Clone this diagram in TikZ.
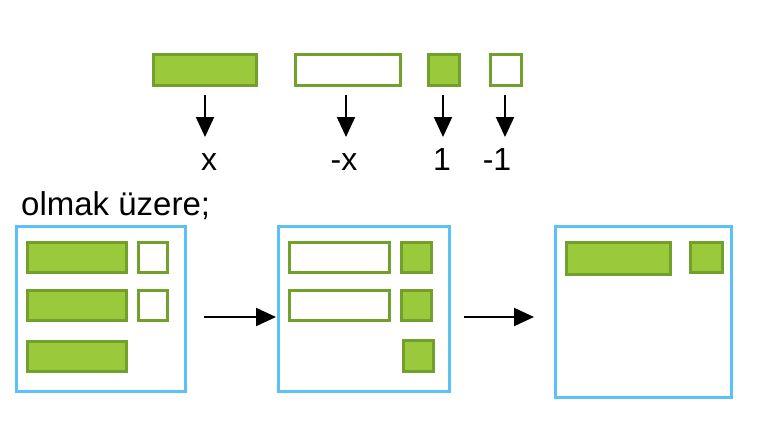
\documentclass[tikz,border=0pt]{standalone}
\usepackage{fontspec}
\setmainfont{Liberation Sans}
\usetikzlibrary{arrows.meta}
\definecolor{gfill}{HTML}{9ACA3C}
\definecolor{gline}{HTML}{72A02C}
\definecolor{bline}{HTML}{5BC2F7}
\begin{document}
\begin{tikzpicture}[x=1pt,y=-1pt,
  tile/.style={draw=gline,line width=3pt,inner sep=0pt,minimum height=30pt},
  gtile/.style={tile,fill=gfill},
  wtile/.style={tile,fill=white},
  frame/.style={draw=bline,line width=3pt,fill=white,inner sep=0pt},
  lab/.style={font=\fontsize{32}{36}\selectfont,inner sep=0pt,text height=23pt,text depth=0pt,anchor=south},
  arr/.style={line width=2pt,-{Triangle[length=20pt,width=18pt]}}]
\useasboundingbox (0,0) rectangle (764,423);
\fill[white] (0,0) rectangle (764,423);
% legend
\node[gtile,minimum width=103pt,minimum height=31pt] (lx) at (205,70) {};
\node[wtile,minimum width=105pt,minimum height=31pt] (lnx) at (348,70) {};
\node[gtile,minimum width=31pt,minimum height=31pt] (lo) at (444,70) {};
\node[wtile,minimum width=31pt,minimum height=31pt] (lmo) at (506,70) {};
\node[lab] (tx) at (209,171) {x};
\node[lab] (tnx) at (344,171) {-x};
\node[lab] (to) at (442,171) {1};
\node[lab] (tmo) at (497,171) {-1};
\coordinate (ex) at (205,137);
\coordinate (enx) at (346,137);
\coordinate (eo) at (443,137);
\coordinate (emo) at (505,137);
\draw[arr] ([yshift=-8pt]lx.south) -- (ex);
\draw[arr] ([yshift=-8pt]lnx.south -| enx) -- (enx);
\draw[arr] ([yshift=-8pt]lo.south -| eo) -- (eo);
\draw[arr] ([yshift=-8pt]lmo.south -| emo) -- (emo);
% caption
\node[font=\fontsize{33}{38}\selectfont,inner sep=0pt,anchor=base west] (cap) at (21,215) {olmak üzere;};
% boxes
\node[frame,minimum width=169pt,minimum height=165pt] (b1) at (101,309) {};
\node[frame,minimum width=171pt,minimum height=165pt] (b2) at (364,309) {};
\node[frame,minimum width=176pt,minimum height=171pt] (b3) at (643.5,312) {};
% box 1
\node[gtile,minimum width=99pt] (b1x1) at (77,257.5) {};
\node[gtile,minimum width=99pt] (b1x2) at (77,305.5) {};
\node[gtile,minimum width=99pt] (b1x3) at (77,356) {};
\node[wtile,minimum width=29pt] (b1m1) at (153,257.5) {};
\node[wtile,minimum width=29pt] (b1m2) at (153,305.5) {};
% box 2
\node[wtile,minimum width=100pt] (b2n1) at (339.5,257.5) {};
\node[wtile,minimum width=100pt] (b2n2) at (339.5,305.5) {};
\node[gtile,minimum width=30pt] (b2o1) at (416.5,257.5) {};
\node[gtile,minimum width=30pt] (b2o2) at (416.5,305.5) {};
\node[gtile,minimum width=30pt,minimum height=31pt] (b2o3) at (418,356) {};
% box 3
\node[gtile,minimum width=104pt,minimum height=32pt] (b3x) at (618.5,258.5) {};
\node[gtile,minimum width=32pt] (b3o) at (706.5,257.5) {};
% arrows between boxes
\coordinate (a1s) at (204,317);
\coordinate (a2s) at (464,317);
\coordinate (a2e) at (534,317);
\draw[arr] (a1s) -- ([xshift=-1pt]b2.west |- a1s);
\draw[arr] (a2s) -- (a2e);
\end{tikzpicture}
\end{document}
